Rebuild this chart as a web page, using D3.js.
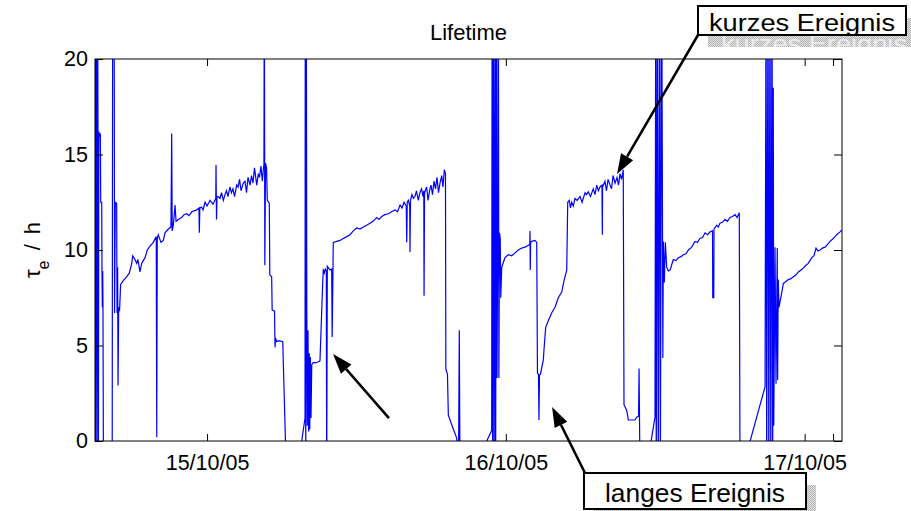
<!DOCTYPE html>
<html>
<head>
<meta charset="utf-8">
<script src="https://cdn.jsdelivr.net/npm/d3@7"></script>
<style>
	body { margin: 0; background: #fff; }
	svg { display: block; font-family: "Liberation Sans", Arial, sans-serif; }
</style>
</head>
<body>
<svg id="chart" width="911" height="511"></svg>
<script>

// time axis runs from 14/10/05 15:00 to 17/10/05 03:00
var startTime = new Date(2005, 9, 14, 15, 0);
var endTime = new Date(2005, 9, 17, 3, 0);

// hours since startTime
var hours = [
	0.00, 0.03, 0.08, 0.12, 0.15, 0.21, 0.24, 0.27, 0.31, 0.36,
	0.43, 0.46, 0.54, 0.56, 0.59, 0.62, 0.64, 0.68, 1.38, 1.42,
	1.51, 1.55, 1.57, 1.63, 1.74, 1.77, 1.82, 1.85, 1.90, 1.97,
	2.06, 2.27, 2.55, 2.76, 2.95, 3.03, 3.21, 3.35, 3.45, 3.61,
	3.75, 4.02, 4.20, 4.42, 4.68, 4.92, 4.96, 5.00, 5.08, 5.30,
	5.49, 5.62, 5.89, 6.10, 6.16, 6.20, 6.29, 6.43, 6.51, 6.69,
	6.96, 7.15, 7.37, 7.55, 7.77, 7.95, 8.17, 8.35, 8.38, 8.42,
	8.57, 8.68, 8.84, 9.00, 9.24, 9.48, 9.70, 9.72, 9.76, 9.80,
	9.90, 10.04, 10.16, 10.31, 10.44, 10.56, 10.68, 10.84, 10.96, 11.08,
	11.21, 11.38, 11.49, 11.61, 11.73, 11.91, 12.05, 12.17, 12.29, 12.45,
	12.57, 12.69, 12.81, 12.99, 13.12, 13.21, 13.33, 13.44, 13.52, 13.57,
	13.60, 13.64, 13.70, 13.78, 13.84, 14.00, 14.04, 14.19, 14.23, 14.42,
	14.46, 14.50, 14.58, 14.78, 15.08, 15.34, 16.27, 16.87, 16.89, 16.93,
	16.97, 17.01, 17.05, 17.11, 17.16, 17.21, 17.25, 17.30, 17.35, 17.41,
	17.53, 17.75, 17.94, 18.07, 18.29, 18.34, 18.42, 18.50, 18.58, 18.61,
	18.66, 18.88, 19.01, 19.05, 19.14, 19.41, 19.68, 19.94, 20.22, 20.48,
	20.75, 21.02, 21.29, 21.55, 21.82, 22.09, 22.33, 22.63, 22.81, 23.03,
	23.29, 23.56, 23.82, 24.10, 24.30, 24.50, 24.66, 24.82, 25.00, 25.04,
	25.08, 25.17, 25.28, 25.30, 25.34, 25.46, 25.57, 25.70, 25.82, 25.97,
	26.10, 26.23, 26.35, 26.41, 26.43, 26.47, 26.64, 26.75, 26.87, 26.99,
	27.11, 27.23, 27.35, 27.47, 27.59, 27.71, 27.85, 27.95, 28.06, 28.15,
	28.18, 28.25, 28.31, 28.38, 28.68, 29.05, 29.20, 29.26, 29.32, 31.25,
	31.86, 31.90, 31.94, 31.99, 32.06, 32.13, 32.18, 32.25, 32.29, 32.37,
	32.40, 32.44, 32.49, 32.55, 32.59, 32.67, 32.93, 33.20, 33.47, 33.74,
	34.00, 34.27, 34.54, 34.80, 34.92, 34.94, 34.96, 34.99, 35.08, 35.34,
	35.48, 35.54, 35.62, 35.66, 35.70, 35.78, 36.01, 36.06, 36.20, 36.41,
	36.68, 36.95, 37.21, 37.49, 37.67, 37.89, 37.97, 38.10, 38.19, 38.29,
	38.42, 38.55, 38.72, 38.96, 39.12, 39.36, 39.48, 39.62, 39.80, 40.02,
	40.16, 40.30, 40.43, 40.56, 40.72, 40.75, 40.77, 40.96, 41.08, 41.21,
	41.37, 41.49, 41.61, 41.77, 41.93, 42.05, 42.17, 42.29, 42.43, 42.49,
	42.71, 42.84, 43.37, 43.51, 43.66, 43.70, 43.78, 44.42, 44.98, 45.04,
	45.08, 45.18, 45.24, 45.36, 45.41, 45.52, 45.57, 45.61, 45.65, 45.73,
	45.81, 45.92, 46.05, 46.19, 46.31, 46.45, 46.67, 46.85, 47.07, 47.25,
	47.47, 47.66, 47.93, 48.19, 48.39, 48.59, 48.80, 49.00, 49.20, 49.40,
	49.60, 49.62, 49.70, 49.72, 49.94, 50.06, 50.20, 50.40, 50.60, 50.80,
	51.00, 51.21, 51.41, 51.57, 51.75, 51.81, 52.37, 53.82, 53.90, 53.95,
	54.06, 54.12, 54.22, 54.28, 54.38, 54.43, 54.48, 54.52, 54.62, 54.70,
	54.80, 54.83, 54.88, 54.94, 55.02, 55.16, 55.29, 55.50, 55.69, 55.90,
	56.09, 56.31, 56.49, 56.71, 56.89, 57.11, 57.29, 57.57, 57.75, 57.91,
	58.07, 58.23, 58.43, 58.64, 58.84, 59.04, 59.30, 59.57, 59.84, 60.00
];

// lifetime tau_e in hours (values above 20 / below 0 run off the axes)
var tau = [
	25, -2, 25, 16.8, -2, 25, 16.3, -2, 16.2, 16.0,
	16.1, 12.5, 12.5, 9.0, 7.0, 8.9, 7.1, -2, -2, 25,
	25, 18.5, 6.7, 12.5, 12.45, 6.7, 9.1, 2.9, 7.0, 6.8,
	8.2, 8.4, 8.6, 8.8, 9.3, 9.7, 9.5, 9.3, 9.5, 8.85,
	9.3, 9.6, 10.0, 10.2, 10.4, 10.7, 0.2, 10.6, 10.8, 10.4,
	10.5, 10.9, 11.1, 11.2, 16.1, 11.0, 11.3, 12.35, 11.5, 11.6,
	11.7, 11.85, 11.9, 11.8, 12.0, 12.05, 12.1, 12.2, 10.9, 12.2,
	12.25, 12.1, 12.5, 12.3, 12.6, 12.4, 12.7, 14.45, 11.6, 12.8,
	12.8, 12.7, 13.0, 12.6, 12.9, 13.1, 12.8, 13.3, 13.0, 13.2,
	12.8, 13.4, 13.3, 13.7, 13.1, 13.5, 13.6, 13.0, 13.8, 13.4,
	13.9, 13.5, 14.3, 13.4, 14.0, 13.8, 14.4, 13.6, 14.2, 14.5,
	25, 9.2, 14.55, 14.3, 12.6, 12.45, 8.7, 8.6, 6.85, 6.8,
	4.9, 5.4, 5.2, 5.25, 5.2, -1, -1.5, 1.2, 25, -2,
	25, 7.5, 0.8, 5.8, 0.5, 4.6, 0.6, 4.4, 1.2, 4.0,
	4.1, 4.1, 4.15, 4.2, 8.3, 9.0, 8.8, 9.0, 8.9, -2,
	9.15, 8.95, 9.0, 5.45, 10.4, 10.45, 10.5, 10.6, 10.7, 10.8,
	11.0, 11.15, 11.1, 11.2, 11.3, 11.4, 11.5, 11.7, 11.6, 11.75,
	11.85, 11.9, 12.0, 12.1, 12.0, 12.35, 12.2, 12.5, 12.3, 10.4,
	12.5, 12.6, 12.3, 9.9, 12.6, 12.9, 12.7, 12.8, 13.1, 12.6,
	13.0, 13.2, 12.8, 13.1, 7.6, 13.0, 13.3, 12.6, 13.1, 13.4,
	12.9, 13.6, 13.2, 13.8, 13.0, 13.5, 13.9, 13.3, 14.2, 14.0,
	3.8, 3.6, 3.5, 1.35, 0.8, 0.15, -1, 5.8, -2, -0.3,
	0.55, 25, -2, 25, -2, 25, -2, 25, 3.3, 13.6,
	25, 3.3, 10.9, 10.6, 7.5, 9.1, 9.6, 9.75, 9.7, 9.85,
	10.0, 10.1, 10.15, 10.25, 10.3, 11.0, 8.95, 10.4, 10.45, 10.5,
	10.4, 3.55, 3.5, 1.1, 3.45, 3.5, 4.25, 4.75, 5.95, 6.3,
	6.7, 7.0, 7.5, 7.8, 8.4, 8.95, 12.5, 12.6, 12.2, 12.5,
	12.3, 12.7, 12.6, 12.8, 12.5, 13.0, 12.9, 13.05, 12.8, 13.2,
	12.9, 13.4, 13.1, 13.3, 13.4, 10.8, 13.3, 13.6, 13.1, 13.7,
	13.4, 13.2, 13.9, 13.5, 13.8, 13.4, 14.0, 13.7, 14.2, 1.9,
	1.6, 1.1, 1.1, 1.25, 1.3, 3.8, -2, -1, 1.25, 25,
	-2, 25, -2, 25, -2, 25, 14.0, 4.35, 10.45, 8.3,
	10.4, 9.1, 8.9, 8.95, 9.2, 9.5, 9.45, 9.6, 9.65, 9.75,
	9.8, 10.0, 10.15, 10.45, 10.4, 10.6, 10.65, 10.9, 10.8, 10.95,
	11.0, 7.5, 7.5, 11.1, 11.3, 11.2, 11.4, 11.45, 11.6, 11.5,
	11.7, 11.75, 11.85, 11.7, 11.95, -2, -0.6, 2.85, 25, -2,
	25, -2, 25, -2, 25, -2, 18.5, 0.8, 10.15, 3.0,
	10.1, 3.2, 8.45, 7.0, 7.3, 7.75, 8.25, 8.35, 8.45, 8.5,
	8.6, 8.7, 8.85, 8.95, 9.05, 9.2, 9.3, 9.6, 9.7, 10.1,
	9.95, 10.0, 10.1, 10.15, 10.3, 10.45, 10.6, 10.8, 10.95, 11.05
];

var yTicks = [0, 5, 10, 15, 20];
var xTickDates = [new Date(2005, 9, 15), new Date(2005, 9, 16), new Date(2005, 9, 17), new Date(2005, 9, 17, 2, 17)];
var xTickLabels = ["15/10/05", "16/10/05", "17/10/05", ""];

var titleText = "Lifetime";
var notes = [
	{ label: "kurzes Ereignis", box: [698, 6, 208, 29], fontSize: 23, textLength: 186, tipTime: 41.93, tipTau: 13.98, tail: [698, 35], ghost: true },
	{ label: "langes Ereignis", box: [584, 473, 222, 36], fontSize: 26, textLength: 180, tipTime: 36.71, tipTau: 1.78, tail: [585, 473], ghost: false }
];
// arrow without label
var looseArrow = { tipTime: 19.12, tipTau: 4.55, tailTime: 23.61, tailTau: 1.2 };

var margin = { top: 59, left: 95 },
	width = 747,
	height = 382;

var svg = d3.select("#chart");

var defs = svg.append("defs");
defs.append("clipPath").attr("id", "plotClip")
	.append("rect").attr("width", width).attr("height", height);

var pat = defs.append("pattern").attr("id", "stipple")
	.attr("width", 2).attr("height", 2).attr("patternUnits", "userSpaceOnUse");
pat.append("rect").attr("width", 2).attr("height", 2).attr("fill", "#e2e2e2");
pat.append("rect").attr("width", 1).attr("height", 1).attr("fill", "#b4b4b4");
pat.append("rect").attr("x", 1).attr("y", 1).attr("width", 1).attr("height", 1).attr("fill", "#b4b4b4");

var x = d3.scaleTime().domain([startTime, endTime]).range([0, width]);
var y = d3.scaleLinear().domain([0, 20]).range([height, 0]);

function hourDate(h) { return new Date(startTime.getTime() + h * 3600000); }

var data = hours.map(function(h, i) { return { date: hourDate(h), value: tau[i] }; });

var g = svg.append("g").attr("transform", "translate(" + margin.left + "," + margin.top + ")");

// the series
g.append("path")
	.datum(data)
	.attr("clip-path", "url(#plotClip)")
	.attr("fill", "none")
	.attr("stroke", "#0000ff")
	.attr("stroke-width", 1.2)
	.attr("d", d3.line().x(function(d) { return x(d.date); }).y(function(d) { return y(d.value); }));

// axes, matlab style: ticks inside on all four sides
var fmt = function(d, i) { return xTickLabels[i]; };

g.append("g").attr("transform", "translate(0," + height + ")")
	.call(d3.axisBottom(x).tickValues(xTickDates).tickFormat(fmt).tickSizeInner(-7).tickSizeOuter(0).tickPadding(14));
g.append("g")
	.call(d3.axisTop(x).tickValues(xTickDates).tickFormat("").tickSizeInner(-7).tickSizeOuter(0));
g.append("g")
	.call(d3.axisLeft(y).tickValues(yTicks).tickSizeInner(-8).tickSizeOuter(0).tickPadding(7));
g.append("g").attr("transform", "translate(" + width + ",0)")
	.call(d3.axisRight(y).tickValues(yTicks).tickFormat("").tickSizeInner(-8).tickSizeOuter(0));

g.selectAll(".domain").remove();
g.selectAll(".tick line").attr("stroke", "#000");
g.selectAll(".tick text").attr("fill", "#000").style("font-size", "21.5px").style("font-family", "Liberation Sans, Arial, sans-serif");

g.append("rect")
	.attr("width", width).attr("height", height)
	.attr("fill", "none").attr("stroke", "#000").attr("stroke-width", 1);

// title and y label
svg.append("text")
	.attr("x", margin.left + width / 2).attr("y", 40)
	.attr("text-anchor", "middle")
	.style("font-size", "22px")
	.text(titleText);

var yl = svg.append("text")
	.attr("transform", "translate(40," + (margin.top + height / 2) + ") rotate(-90)")
	.attr("text-anchor", "middle")
	.style("font-size", "22px")
	.style("word-spacing", "4px");
yl.append("tspan").text("\u03c4");
yl.append("tspan").attr("baseline-shift", "sub").style("font-size", "16px").text("e");
yl.append("tspan").text(" / h");

// arrows
function arrow(x1, y1, x2, y2) {
	var a = Math.atan2(y2 - y1, x2 - x1),
		len = 20, half = 7,
		bx = x2 - len * Math.cos(a), by = y2 - len * Math.sin(a);
	svg.append("line")
		.attr("x1", x1).attr("y1", y1).attr("x2", bx).attr("y2", by)
		.attr("stroke", "#000").attr("stroke-width", 2.5);
	svg.append("polygon")
		.attr("points", [
			[x2, y2],
			[bx + half * Math.sin(a), by - half * Math.cos(a)],
			[bx - half * Math.sin(a), by + half * Math.cos(a)]
		].join(" "))
		.attr("fill", "#000");
}

notes.forEach(function(n, i) {
	var b = n.box;
	var clipId = "shadowClip" + i;
	defs.append("clipPath").attr("id", clipId)
		.append("rect").attr("x", b[0] + 10).attr("y", b[1] + 12).attr("width", b[2]).attr("height", b[3]);
	svg.append("rect")
		.attr("x", b[0] + 10).attr("y", b[1] + 12).attr("width", b[2]).attr("height", b[3])
		.attr("fill", "url(#stipple)");
	if (n.ghost) {
		svg.append("text")
			.attr("clip-path", "url(#" + clipId + ")")
			.attr("x", b[0] + 23).attr("y", b[1] + b[3] + 17)
			.attr("textLength", n.textLength).attr("lengthAdjust", "spacingAndGlyphs")
			.attr("fill", "#ececec")
			.style("font-size", n.fontSize + "px")
			.text(n.label);
	}

	arrow(n.tail[0], n.tail[1], margin.left + x(hourDate(n.tipTime)), margin.top + y(n.tipTau));

	svg.append("rect")
		.attr("x", b[0]).attr("y", b[1]).attr("width", b[2]).attr("height", b[3])
		.attr("fill", "#fff").attr("stroke", "#000").attr("stroke-width", 2);
	svg.append("text")
		.attr("x", b[0] + b[2] / 2).attr("y", b[1] + b[3] - 4 - (i == 1 ? 3 : 0))
		.attr("text-anchor", "middle")
		.attr("textLength", n.textLength).attr("lengthAdjust", "spacingAndGlyphs")
		.style("font-size", n.fontSize + "px")
		.text(n.label);
});

arrow(margin.left + x(hourDate(looseArrow.tailTime)), margin.top + y(looseArrow.tailTau),
	margin.left + x(hourDate(looseArrow.tipTime)), margin.top + y(looseArrow.tipTau));

</script>
</body>
</html>
